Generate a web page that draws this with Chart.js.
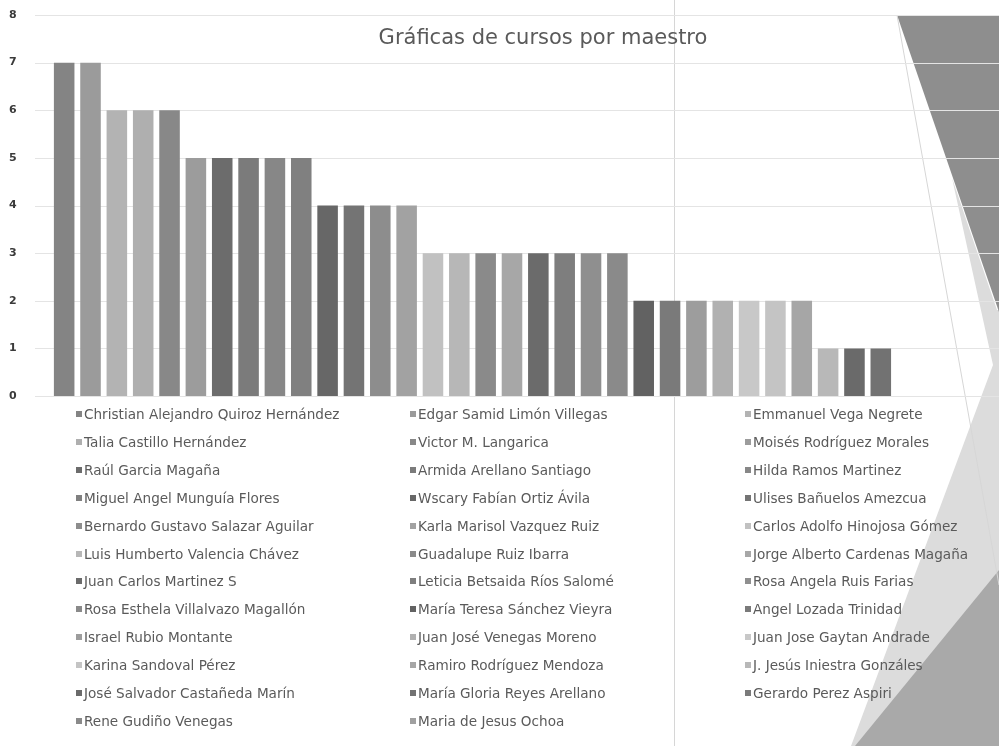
<!DOCTYPE html>
<html><head><meta charset="utf-8">
<script src="https://cdn.jsdelivr.net/npm/chart.js@4.4.0/dist/chart.umd.min.js"></script>
<style>
html,body{margin:0;padding:0;background:#fff;}
#wrap{position:relative;width:999px;height:746px;overflow:hidden;}
#c{position:absolute;left:0;top:0;}
#title{position:absolute;left:343px;width:400px;top:25px;text-align:center;font:21px "DejaVu Sans";color:#5a5a5a;white-space:nowrap;}
.li{position:absolute;font:13.6px "DejaVu Sans";color:#5a5a5a;white-space:nowrap;line-height:16px;}
.li i{display:inline-block;width:6px;height:6px;margin-right:2px;vertical-align:2px;}
</style></head><body>
<div id="wrap"><canvas id="c" width="999" height="746"></canvas><div id="title">Gráficas de cursos por maestro</div><div id="legend"></div></div>
<script>
const teachers = [
 "Christian Alejandro Quiroz Hernández","Edgar Samid Limón Villegas","Emmanuel Vega Negrete",
 "Talia Castillo Hernández","Victor M. Langarica","Moisés Rodríguez Morales",
 "Raúl Garcia Magaña","Armida Arellano Santiago","Hilda Ramos Martinez",
 "Miguel Angel Munguía Flores","Wscary Fabían Ortiz Ávila","Ulises Bañuelos Amezcua",
 "Bernardo Gustavo Salazar Aguilar","Karla Marisol Vazquez Ruiz","Carlos Adolfo Hinojosa Gómez",
 "Luis Humberto Valencia Chávez","Guadalupe Ruiz Ibarra","Jorge Alberto Cardenas Magaña",
 "Juan Carlos Martinez S","Leticia Betsaida Ríos Salomé","Rosa Angela Ruis Farias",
 "Rosa Esthela Villalvazo Magallón","María Teresa Sánchez Vieyra","Angel Lozada Trinidad",
 "Israel Rubio Montante","Juan José Venegas Moreno","Juan Jose Gaytan Andrade",
 "Karina Sandoval Pérez","Ramiro Rodríguez Mendoza","J. Jesús Iniestra Gonzáles",
 "José Salvador Castañeda Marín","María Gloria Reyes Arellano","Gerardo Perez Aspiri",
 "Rene Gudiño Venegas","Maria de Jesus Ochoa"
];
const courses = [7,7,6,6,6,5,5,5,5,5,4,4,4,4,3,3,3,3,3,3,3,3,2,2,2,2,2,2,2,1,1,1,0,0,0];
const barColors = [
 "#848484","#9b9b9b","#b3b3b3","#afafaf","#888888","#9c9c9c",
 "#6c6c6c","#7b7b7b","#878787","#808080","#676767","#747474",
 "#8d8d8d","#a2a2a2","#c1c1c1","#b7b7b7","#8a8a8a","#a7a7a7",
 "#6b6b6b","#7e7e7e","#8f8f8f","#8a8a8a","#626262","#7a7a7a",
 "#9d9d9d","#b1b1b1","#c8c8c8","#c4c4c4","#a6a6a6","#b8b8b8",
 "#6a6a6a","#727272","#7a7a7a","#8a8a8a","#a0a0a0"
];
const yTickMin = 0, yTickMax = 8, yTickStep = 1;

const bgPlugin = {
  id:'bg',
  beforeDraw(chart){
    const c = chart.ctx; c.save();
    c.fillStyle='#fff'; c.fillRect(0,0,chart.width,chart.height);
    const poly=(pts,col)=>{c.beginPath();c.moveTo(pts[0][0],pts[0][1]);for(let i=1;i<pts.length;i++)c.lineTo(pts[i][0],pts[i][1]);c.closePath();c.fillStyle=col;c.fill();};
    poly([[952,178],[997,310],[999,310],[999,746],[851,746],[993,365]],'#dcdcdc');
    poly([[999,570],[999,746],[855,746]],'#a9a9a9');
    poly([[897,15],[999,15],[999,312]],'#8e8e8e');
    c.strokeStyle='#d6d6d6'; c.lineWidth=1;
    c.beginPath(); c.moveTo(897,15); c.lineTo(999,585); c.stroke();
    c.beginPath(); c.moveTo(674.5,0); c.lineTo(674.5,746); c.stroke();
    c.restore();
  }
};
const gridPlugin = {
  id:'hgrid',
  beforeDatasetsDraw(chart){
    const c = chart.ctx, ys = chart.scales.y; c.save();
    c.strokeStyle='#e4e4e4'; c.lineWidth=1;
    ys.ticks.forEach(t=>{const y=Math.round(ys.getPixelForValue(t.value))+0.5;c.beginPath();c.moveTo(35,y);c.lineTo(999,y);c.stroke();});
    c.restore();
  }
};

new Chart(document.getElementById('c'),{
  type:'bar',
  data:{labels:teachers,datasets:[{data:courses,backgroundColor:barColors,borderWidth:0,barPercentage:0.78,categoryPercentage:1}]},
  options:{
    responsive:false,animation:false,
    layout:{padding:{top:15,bottom:350,left:9,right:26}},
    plugins:{legend:{display:false},tooltip:{enabled:false},title:{display:false}},
    scales:{
      x:{display:false},
      y:{min:yTickMin,max:yTickMax,
         ticks:{stepSize:yTickStep,padding:3,crossAlign:'far',color:'#3a3a3a',font:{family:'DejaVu Sans',size:11,weight:'bold'}},
         grid:{display:false,drawTicks:false},border:{display:false},
         afterFit(s){s.width=42;}}
    }
  },
  plugins:[bgPlugin,gridPlugin]
});

const colX=[76,410,745];
const leg=document.getElementById('legend');
teachers.forEach((name,i)=>{
  const r=Math.floor(i/3), col=i%3;
  const d=document.createElement('div'); d.className='li';
  d.style.left=colX[col]+'px'; d.style.top=(414+27.9*r-8)+'px';
  const m=document.createElement('i'); m.style.background=barColors[i];
  d.appendChild(m); d.appendChild(document.createTextNode(name));
  leg.appendChild(d);
});
</script>
</body></html>
